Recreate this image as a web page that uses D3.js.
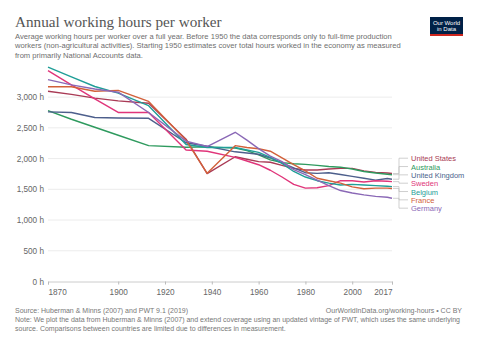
<!DOCTYPE html>
<html>
<head>
<meta charset="utf-8">
<script src="https://cdn.jsdelivr.net/npm/d3@7"></script>
<style>
  body { margin: 0; background: #fff; }
  svg { font-family: "Liberation Sans", Arial, sans-serif; }
</style>
</head>
<body>
<div id="container"></div>
<script>
// Huberman & Minns years, then PWT years
var hmYears = [1870, 1880, 1890, 1900, 1913, 1929, 1938];
var pwtYears = [1950, 1955, 1960, 1965, 1970, 1975, 1980, 1985, 1990, 1995, 2000, 2005, 2010, 2015, 2017];

var countries = ["United States", "Australia", "United Kingdom", "Sweden", "Belgium", "France", "Germany"];
var colors = ["#a93a55", "#2e9a5e", "#4d5f8c", "#e0357a", "#1f9e97", "#d2603a", "#8a68b6"];

var usHM = [3096, 3044, 2983, 2938, 2900, 2316, 1756];
var usPWT = [2030, 1990, 1950, 1940, 1890, 1840, 1815, 1815, 1830, 1840, 1840, 1800, 1775, 1765, 1757];
var auHM = [2780, 2640, 2510, 2380, 2210, 2185, 2190];
var auPWT = [2170, 2130, 2060, 1980, 1935, 1915, 1905, 1890, 1870, 1860, 1830, 1790, 1765, 1745, 1738];
var ukHM = [2760, 2750, 2668, 2660, 2655, 2257, 2200];
var ukPWT = [2110, 2090, 2070, 2010, 1930, 1850, 1770, 1760, 1770, 1740, 1710, 1680, 1650, 1675, 1664];
var seHM = [3430, 3200, 2970, 2750, 2750, 2140, 2120];
var sePWT = [2020, 1960, 1900, 1810, 1700, 1580, 1520, 1525, 1560, 1640, 1640, 1620, 1640, 1630, 1625];
var beHM = [3489, 3330, 3173, 3065, 2860, 2230, 2180];
var bePWT = [2180, 2140, 2100, 2020, 1920, 1790, 1700, 1640, 1600, 1570, 1580, 1570, 1560, 1550, 1544];
var frHM = [3168, 3168, 3096, 3110, 2930, 2300, 1760];
var frPWT = [2210, 2180, 2160, 2120, 2010, 1900, 1800, 1680, 1640, 1600, 1540, 1510, 1520, 1519, 1514];
var deHM = [3284, 3200, 3132, 3080, 2750, 2284, 2196];
var dePWT = [2428, 2300, 2163, 2040, 1950, 1820, 1740, 1650, 1560, 1480, 1440, 1410, 1385, 1370, 1354];

var yTicks = [0, 500, 1000, 1500, 2000, 2500, 3000];
var xTicks = [1870, 1900, 1920, 1940, 1960, 1980, 2000, 2017];

var values = [
  usHM.concat(usPWT), auHM.concat(auPWT), ukHM.concat(ukPWT), seHM.concat(sePWT),
  beHM.concat(bePWT), frHM.concat(frPWT), deHM.concat(dePWT)
];
var years = hmYears.concat(pwtYears);

var series = countries.map(function (name, i) {
  return {
    name: name,
    color: colors[i],
    points: years.map(function (yr, j) { return { year: yr, value: values[i][j] }; })
  };
});

var width = 479, height = 346;
var margin = { top: 67, right: 87, bottom: 64.5, left: 48 };

var svg = d3.select("#container").append("svg")
    .attr("width", width)
    .attr("height", height);

var x = d3.scaleLinear()
    .domain([1870, 2017])
    .range([margin.left, width - margin.right]);

var y = d3.scaleLinear()
    .domain([0, 3490])
    .range([height - margin.bottom, margin.top]);

// header
svg.append("text")
    .attr("x", 15).attr("y", 27)
    .attr("font-family", "'Liberation Serif', 'Times New Roman', serif")
    .attr("font-size", 15.2)
    .attr("fill", "#555")
    .text("Annual working hours per worker");

var sub = [
  "Average working hours per worker over a full year. Before 1950 the data corresponds only to full-time production",
  "workers (non-agricultural activities). Starting 1950 estimates cover total hours worked in the economy as measured",
  "from primarily National Accounts data."
];
svg.selectAll(".sub")
    .data(sub)
  .enter().append("text")
    .attr("class", "sub")
    .attr("x", 15)
    .attr("y", function (d, i) { return 38.5 + i * 9.8; })
    .attr("font-size", 7.6)
    .attr("fill", "#6e6e6e")
    .text(function (d) { return d; });

// logo
var logo = svg.append("g").attr("transform", "translate(430,17)");
logo.append("rect").attr("width", 33).attr("height", 19).attr("fill", "#002147");
logo.append("rect").attr("y", 17).attr("width", 33).attr("height", 2).attr("fill", "#ce261e");
logo.append("text").attr("x", 16.5).attr("y", 7.5).attr("text-anchor", "middle")
    .attr("font-size", 6).attr("fill", "#fff").text("Our World");
logo.append("text").attr("x", 16.5).attr("y", 14).attr("text-anchor", "middle")
    .attr("font-size", 6).attr("fill", "#fff").text("in Data");

// grid + y labels
svg.selectAll(".grid")
    .data(yTicks.filter(function (t) { return t > 0; }))
  .enter().append("line")
    .attr("class", "grid")
    .attr("x1", x(1870)).attr("x2", x(2017))
    .attr("y1", function (d) { return y(d); })
    .attr("y2", function (d) { return y(d); })
    .attr("stroke", "#ececec");

svg.selectAll(".ylab")
    .data(yTicks)
  .enter().append("text")
    .attr("class", "ylab")
    .attr("x", 44)
    .attr("y", function (d) { return y(d) + 3; })
    .attr("text-anchor", "end")
    .attr("font-size", 8.2)
    .attr("fill", "#666")
    .text(function (d) { return d3.format(",")(d) + " h"; });

// x axis
var xAxis = svg.append("g")
    .attr("transform", "translate(0," + y(0) + ")")
    .call(d3.axisBottom(x).tickValues(xTicks).tickFormat(d3.format("d")).tickSize(3));
xAxis.select(".domain").attr("stroke", "#ccc");
xAxis.selectAll(".tick line").attr("stroke", "#bbb");
xAxis.selectAll(".tick text")
    .attr("font-size", 8.2)
    .attr("fill", "#666")
    .attr("dy", "0.9em")
    .attr("text-anchor", function (d) { return d === 1870 ? "start" : d === 2017 ? "end" : "middle"; });

// lines
var line = d3.line()
    .x(function (p) { return x(p.year); })
    .y(function (p) { return y(p.value); });

svg.selectAll(".country")
    .data(series)
  .enter().append("path")
    .attr("class", "country")
    .attr("d", function (s) { return line(s.points); })
    .attr("fill", "none")
    .attr("stroke", function (s) { return s.color; })
    .attr("stroke-width", 1.4)
    .attr("stroke-linejoin", "round");

// labels
var ends = series.map(function (s) {
  return { s: s, yEnd: y(s.points[s.points.length - 1].value) };
}).sort(function (a, b) { return a.yEnd - b.yEnd; });
var step = 8.33;
var mid = d3.mean(ends, function (e) { return e.yEnd; });
ends.forEach(function (e, i) { e.yLab = mid + (i - (ends.length - 1) / 2) * step; });

svg.selectAll(".leader")
    .data(ends)
  .enter().append("path")
    .attr("class", "leader")
    .attr("d", function (e) {
      return "M" + (x(2017) + 1) + "," + e.yEnd + "H399V" + e.yLab + "H408";
    })
    .attr("fill", "none")
    .attr("stroke", "#bbb")
    .attr("stroke-width", 0.7);

svg.selectAll(".lab")
    .data(ends)
  .enter().append("text")
    .attr("class", "lab")
    .attr("x", 411)
    .attr("y", function (e) { return e.yLab + 3; })
    .attr("font-size", 7.5)
    .attr("fill", function (e) { return e.s.color; })
    .text(function (e) { return e.s.name; });

// footer
svg.append("text").attr("x", 15).attr("y", 312.5).attr("font-size", 7).attr("fill", "#777")
    .text("Source: Huberman & Minns (2007) and PWT 9.1 (2019)");
svg.append("text").attr("x", 462).attr("y", 312.5).attr("font-size", 7).attr("fill", "#777")
    .attr("text-anchor", "end")
    .text("OurWorldInData.org/working-hours \u2022 CC BY");
svg.append("text").attr("x", 15).attr("y", 321.8).attr("font-size", 7).attr("fill", "#777")
    .text("Note: We plot the data from Huberman & Minns (2007) and extend coverage using an updated vintage of PWT, which uses the same underlying");
svg.append("text").attr("x", 15).attr("y", 331.1).attr("font-size", 7).attr("fill", "#777")
    .text("source. Comparisons between countries are limited due to differences in measurement.");
</script>
</body>
</html>
